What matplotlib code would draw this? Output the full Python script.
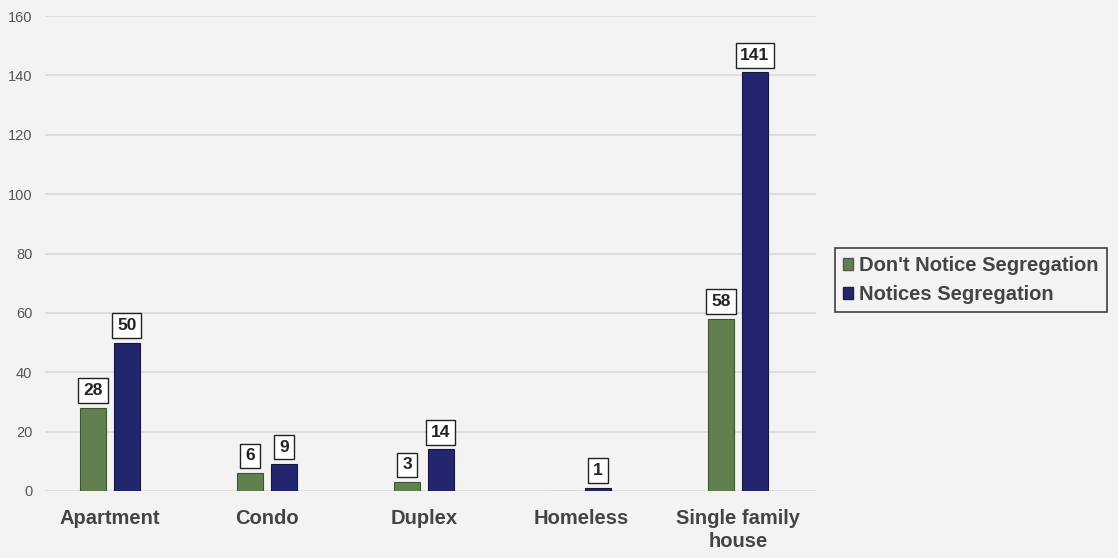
import numpy as np
import matplotlib.pyplot as plt
from matplotlib.patches import Patch

categories = ['Apartment', 'Condo', 'Duplex', 'Homeless', 'Single family\nhouse']
dont_notice = [28, 6, 3, 0, 58]
notices = [50, 9, 14, 1, 141]
series_names = ["Don't Notice Segregation", 'Notices Segregation']

green = '#62804f'
navy = '#23266f'
bg = '#f3f3f3'

plt.rcParams['font.family'] = ['Liberation Sans', 'DejaVu Sans']

fig = plt.figure(figsize=(11.18, 5.58), dpi=100)
fig.patch.set_facecolor(bg)
ax = fig.add_axes([45/1118, 1-491/558, (816-45)/1118, 475/558])
ax.set_facecolor(bg)

x = np.arange(len(categories))
w = 0.166
off = 0.108
b1 = ax.bar(x - off, dont_notice, w, color=green, edgecolor='#3e5432', linewidth=0.8, zorder=3)
b2 = ax.bar(x + off, notices, w, color=navy, edgecolor='#14163f', linewidth=0.8, zorder=3)

def label(bars, vals):
    for r, v in zip(bars, vals):
        if v == 0:
            continue
        ax.annotate(str(v), (r.get_x() + r.get_width()/2, v), xytext=(0, 7),
                    textcoords='offset points', ha='center', va='bottom',
                    fontsize=12.5, fontweight='bold', color='#222222',
                    bbox=dict(boxstyle='square,pad=0.28', fc='white', ec='#222222', lw=1.0),
                    zorder=5)

label(b1, dont_notice)
label(b2, notices)

ax.set_xlim(-0.414, 4.497)
ax.set_ylim(0, 160)
ax.set_yticks(range(0, 161, 20))
ax.set_xticks(x)
ax.set_xticklabels(categories, fontsize=14.5, fontweight='bold', color='#444444', linespacing=1.25)
ax.tick_params(axis='x', length=0, pad=13)
ax.tick_params(axis='y', length=0, pad=9, labelsize=10.5, labelcolor='#555555')
ax.grid(axis='y', color='#d9d9d9', linewidth=1.2, zorder=0)
for s in ax.spines.values():
    s.set_visible(False)

handles = [Patch(facecolor=green, edgecolor='#555555'), Patch(facecolor=navy, edgecolor='#222222')]
leg = fig.legend(handles, series_names, loc='center left',
                 bbox_to_anchor=(835/1118, 1-280/558), frameon=True, fancybox=False,
                 prop={'weight': 'bold', 'size': 14.5}, handlelength=0.5, handleheight=0.5,
                 handletextpad=0.3, borderpad=0.4, labelspacing=0.5, borderaxespad=0)
leg.get_frame().set_edgecolor('#111111')
leg.get_frame().set_linewidth(1.2)
leg.get_frame().set_facecolor(bg)
for t in leg.get_texts():
    t.set_color('#444444')

fig.savefig('out.png', dpi=100, facecolor=bg)
